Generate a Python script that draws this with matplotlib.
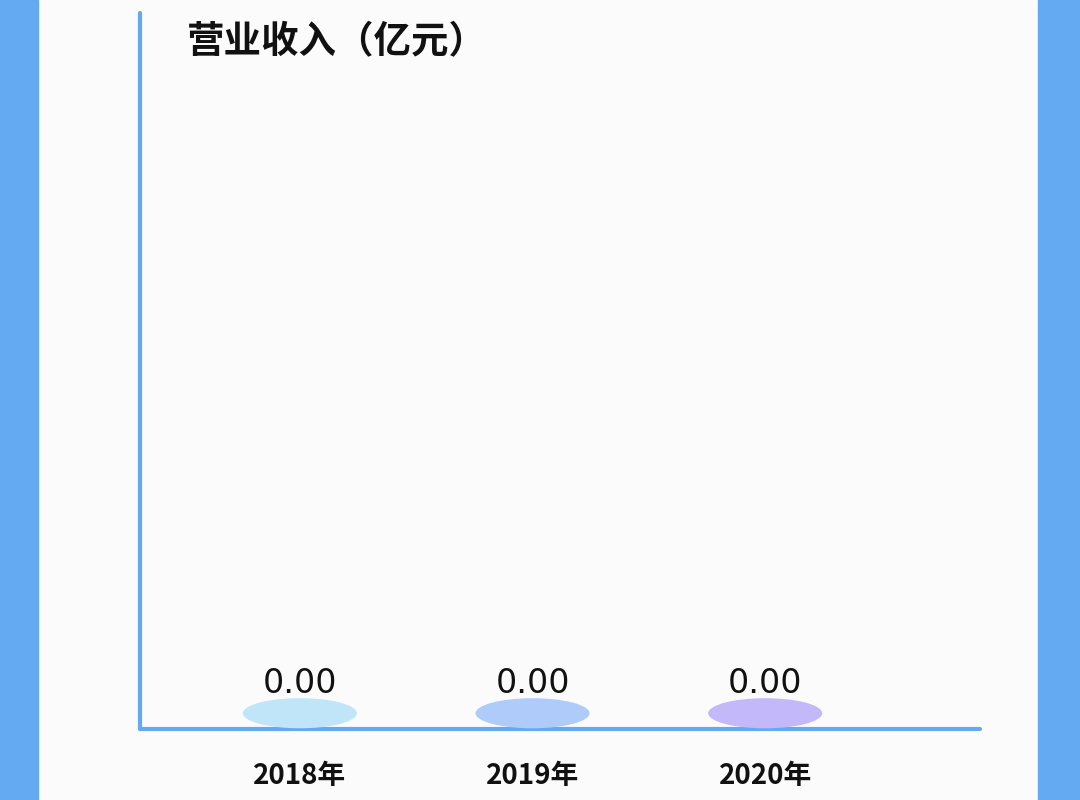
import matplotlib.pyplot as plt
from matplotlib.patches import Ellipse, Rectangle

plt.rcParams['font.family'] = ['Noto Sans CJK SC', 'DejaVu Sans']

# 数据
years = ['2018年', '2019年', '2020年']
revenue = [0.00, 0.00, 0.00]
colors = ['#c0e4f8', '#afcbf9', '#c3b8f9']
title = '营业收入（亿元）'

blue = '#64aaf3'

fig = plt.figure(figsize=(10.8, 8), dpi=100)
fig.patch.set_facecolor('#fbfbfb')

# 左右两侧蓝色边框
fig.patches.append(Rectangle((0, 0), 38 / 1080, 1, transform=fig.transFigure,
                             color=blue, zorder=0))
fig.patches.append(Rectangle((1038 / 1080, 0), 42 / 1080, 1, transform=fig.transFigure,
                             color=blue, zorder=0))

ax = fig.add_axes([140 / 1080, 71 / 800, 840 / 1080, 716 / 800])
ax.set_facecolor('none')

x = list(range(len(years)))
ax.bar(x, revenue, width=0.49, color=colors)

# 柱顶椭圆
for xi, v, c in zip(x, revenue, colors):
    ax.add_patch(Ellipse((xi, v + 0.022), 0.49, 0.042, facecolor=c,
                         edgecolor='none', zorder=3))
    ax.annotate(f'{v:.2f}', (xi, v), xytext=(0, 26), textcoords='offset points',
                ha='center', va='baseline', fontsize=24, family='DejaVu Sans',
                color='#111111')

ax.set_xlim(-0.687, 2.923)
ax.set_ylim(0, 1)

for s in ['top', 'right']:
    ax.spines[s].set_visible(False)
for s in ['left', 'bottom']:
    ax.spines[s].set_color(blue)
    ax.spines[s].set_linewidth(3)
    ax.spines[s].set_capstyle('round')

ax.set_yticks([])
ax.set_xticks(x)
ax.set_xticklabels(years, fontsize=20, fontweight='bold', color='#111111')
ax.tick_params(axis='x', length=0, pad=24)

fig.text(187 / 1080, 1 - 42 / 800, title, fontsize=27, fontweight='bold',
         ha='left', va='center', color='#111111')

fig.savefig('out.png', dpi=100, facecolor=fig.get_facecolor())
